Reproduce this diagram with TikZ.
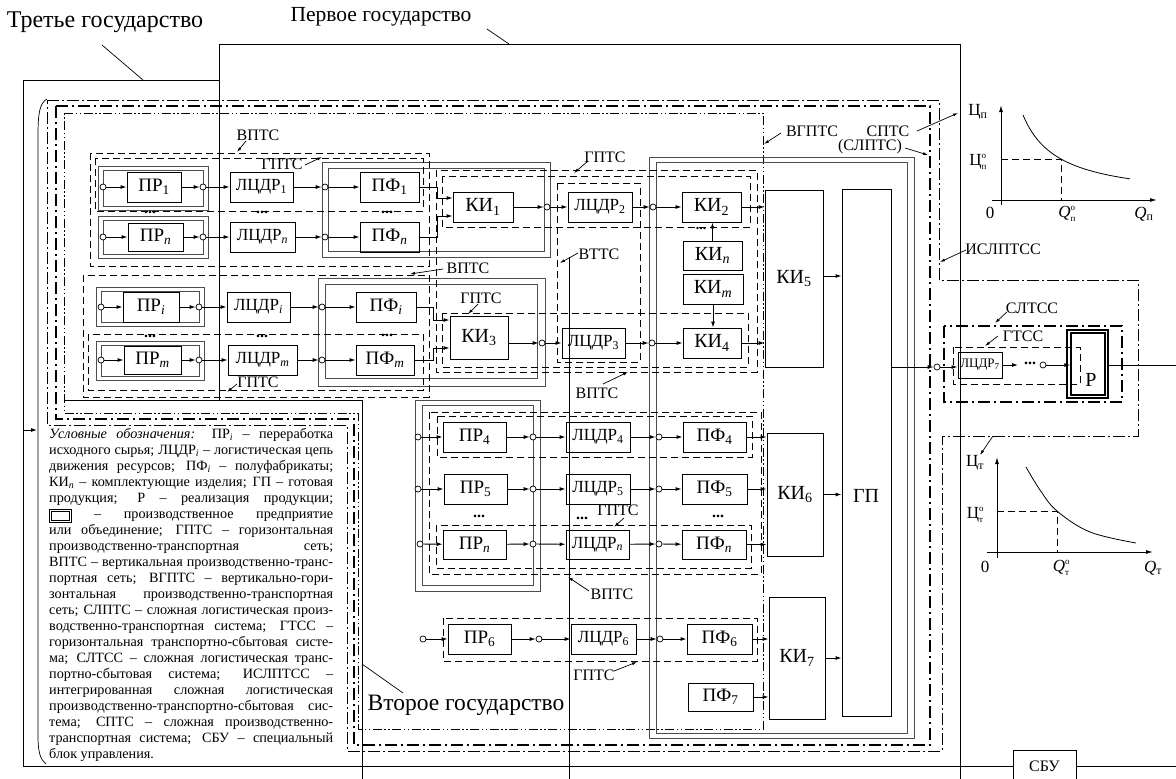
\documentclass[tikz,border=0pt]{standalone}
\usepackage{fontspec}
\setmainfont{Liberation Serif}
\usetikzlibrary{arrows.meta}
\newcommand{\fsz}[1]{\fontsize{#1}{#1}\selectfont}
\newcommand{\mkbox}[7]{\node[#1, minimum width={(#4-#2)*1pt}, minimum height={(#5-#3)*1pt}] (#6) at ({(#2+#4)/2},{(#3+#5)/2}) {#7};}
\newcommand{\supsub}[2]{\rlap{\raisebox{7pt}{\fsz{9}#1}}\raisebox{-4pt}{\fsz{9}#2}}
\newcommand{\legbox}{\raisebox{-1pt}{\setlength{\fboxsep}{1pt}\setlength{\fboxrule}{0.6pt}\fbox{\fbox{\rule{0pt}{7pt}\hspace{16pt}}}}}
\begin{document}
\begin{tikzpicture}[x=1pt,y=-1pt,
 st/.style={line width=0.9pt},
 blk/.style={draw, line width=0.9pt, inner sep=0pt, font=\fsz{19}},
 bl/.style={blk, font=\fsz{17}},
 bk/.style={blk, font=\fsz{20}},
 cir/.style={circle, draw, line width=0.7pt, fill=white, inner sep=0pt, minimum size=6pt},
 arr/.style={line width=0.9pt, -{Latex[length=6pt,width=4pt]}},
 ent/.style={line width=1pt, draw=black!70},
 dsh/.style={line width=0.9pt, dash pattern=on 7pt off 4pt},
 fa/.style={line width=0.8pt, dash pattern=on 12pt off 3pt on 2pt off 3pt},
 fb/.style={line width=1.5pt, dash pattern=on 12pt off 4pt on 2pt off 4pt},
 fc/.style={line width=0.8pt, dash pattern=on 9pt off 2.5pt on 1.5pt off 2.5pt on 1.5pt off 2.5pt},
 lbl/.style={font=\fsz{16}, inner sep=0pt},
 glbl/.style={font=\fsz{17}, inner sep=0pt},
 lead/.style={line width=0.7pt, -{Latex[length=5pt,width=3pt]}},
 dots/.style={font=\fsz{16}\bfseries, inner sep=0pt}]
\useasboundingbox (0,0) rectangle (1176,779);
\fill[white] (0,0) rectangle (1176,779);

% ---------- big frames
\draw[fa] (47,100) -- (939,100) -- (939,280) -- (1138,280) -- (1138,436) -- (942,436) -- (942,751) -- (347,751) -- (347,425) -- (47,425) -- cycle;
\draw[fb] (56,106) -- (930,106) -- (930,745) -- (354,745) -- (354,419) -- (56,419) -- cycle;
\draw[fc] (64,113) -- (763,113) -- (763,729) -- (358,729) -- (358,413) -- (64,413) -- cycle;

% ---------- state boundaries
\mkbox{blk, font=\fsz{16}}{1013}{750}{1076}{782}{sbu}{СБУ}
\draw[st] (219,80) -- (23,80) -- (23,766) -- (sbu.west);
\draw[st] (sbu.east) -- (1176,766);
\draw[st] (219,400) -- (219,44) -- (960,44) -- (960,779);
\draw[st] (65,400) -- (362,400) -- (362,779);
\draw[st] (569,257) -- (569,779);
\node[font=\fsz{24}, inner sep=0pt] (third) at (105,22) {Третье государство};
\draw[line width=0.7pt] (102,45) -- (143,80);
\node[font=\fsz{21.5}, inner sep=0pt] (first) at (381,17) {Первое государство};
\draw[line width=0.7pt] (487,29) -- (509,44);
\node[font=\fsz{23.5}, inner sep=0pt] (second) at (466,705) {Второе государство};
\draw[line width=0.7pt] (362,664) -- (403,693);

% brace and arrow
\draw[line width=0.7pt] (47,99) .. controls (40,103) and (38,112) .. (38,135) -- (38,735) .. controls (38,752) and (40,759) .. (46,764);
\coordinate (brA) at (23,430);
\coordinate (brB) at (37,430);
\draw[arr] (brA) -- (brB);

% ---------- enterprise double boxes
\draw[ent] (98,166) rectangle (208,210); \draw[ent] (103,170) rectangle (203,206);
\draw[ent] (98,216) rectangle (208,258); \draw[ent] (103,220) rectangle (203,254);
\draw[ent] (322,162) rectangle (550,257); \draw[ent] (328,168) rectangle (544,251);
\draw[ent] (96,287) rectangle (204,326); \draw[ent] (101,291) rectangle (199,322);
\draw[ent] (96,341) rectangle (204,380); \draw[ent] (101,345) rectangle (199,376);
\draw[ent] (318,278) rectangle (545,386); \draw[ent] (325,284) rectangle (537,378);
\draw[ent] (415,400) rectangle (540,591); \draw[ent] (422,405) rectangle (533,585);
\draw[ent] (649,157) rectangle (914,738); \draw[ent] (656,162) rectangle (907,733);

% ---------- dashed frames
\draw[dsh] (90,153) rectangle (429,266);
\draw[dsh] (95,158) rectangle (423,211);
\draw[dsh] (83,275) rectangle (429,397);
\draw[dsh] (88,334) rectangle (423,390);
\draw[dsh] (436,170) rectangle (757,372);
\draw[dsh] (442,176) rectangle (750,227);
\draw[dsh] (442,313) rectangle (748,367);
\draw[dsh] (557,183) rectangle (640,362);
\draw[dsh] (429,412) rectangle (761,574);
\draw[dsh] (437,416) rectangle (752,457);
\draw[dsh] (436,525) rectangle (751,568);
\draw[dsh] (443,618) rectangle (757,661);
\draw[fb, line width=1.4pt] (944,326) rectangle (1122,402);
\draw[dsh] (953,347) rectangle (1080,384);

% ---------- labels with leaders
\node[lbl] (tVPTSa) at (258,135) {ВПТС}; \draw[lead] (246,141) -- (237,152);
\node[lbl] (tGPTSa) at (282,164) {ГПТС}; \draw[lead] (305,165) -- (322,157);
\node[lbl] (tGPTSb) at (605,157) {ГПТС}; \draw[lead] (588,161) -- (574,173);
\node[lbl] (tVTTS) at (599,254) {ВТТС}; \draw[lead] (578,253) -- (560,263);
\node[lbl] (tVPTSb) at (468,268) {ВПТС}; \draw[lead] (443,269) -- (410,274);
\node[lbl] (tGPTSc) at (481,298) {ГПТС}; \draw[lead] (478,304) -- (468,314);
\node[lbl] (tGPTSd) at (258,382) {ГПТС}; \draw[lead] (237,384) -- (227,392);
\node[lbl] (tVPTSc) at (597,393) {ВПТС}; \draw[lead] (603,384) -- (628,372);
\node[lbl] (tGPTSe) at (618,510) {ГПТС}; \draw[lead] (624,518) -- (614,527);
\node[lbl] (tVPTSd) at (612,594) {ВПТС}; \draw[lead] (589,591) -- (568,577);
\node[lbl] (tGPTSf) at (594,675) {ГПТС}; \draw[lead] (614,671) -- (637,662);
\node[lbl] (tVGPTS) at (812,131) {ВГПТС}; \draw[lead] (781,133) -- (764,144);
\node[lbl] (tSPTS) at (888,131) {СПТС}; \draw[lead] (917,131) -- (958,113);
\node[lbl] (tSLPTS) at (870,147) {(СЛПТС)}; \draw[lead] (905,148) -- (928,155);
\node[lbl] (tISL) at (1003,249) {ИСЛПТСС}; \draw[lead] (966,250) -- (940,262);
\node[lbl] (tSLTSS) at (1032,308) {СЛТСС}; \draw[lead] (1007,312) -- (995,323);
\node[lbl] (tGTSS) at (1023,336) {ГТСС}; \draw[lead] (998,336) -- (985,346);

% ---------- top group row 1
\mkbox{blk}{127}{172}{181}{202}{pra}{ПР\textsubscript{1}}
\node[cir] (cia) at (103,187) {};
\node[cir] (coa) at (203,187) {};
\mkbox{bl}{230}{172}{293}{202}{la}{ЛЦДР\textsubscript{1}}
\node[cir] (cla) at (325,187) {};
\mkbox{blk}{360}{172}{419}{202}{pfa}{ПФ\textsubscript{1}}
\draw[arr] (cia) -- (pra); \draw[arr] (pra) -- (coa); \draw[arr] (coa) -- (la);
\draw[arr] (la) -- (cla); \draw[arr] (cla) -- (pfa);
% row n
\mkbox{blk}{128}{223}{183}{251}{prb}{ПР\textsubscript{\textit{n}}}
\node[cir] (cib) at (103,237) {};
\node[cir] (cob) at (203,237) {};
\mkbox{bl}{230}{222}{295}{252}{lb}{ЛЦДР\textsubscript{\textit{n}}}
\node[cir] (clb) at (325,237) {};
\mkbox{blk}{360}{222}{419}{252}{pfb}{ПФ\textsubscript{\textit{n}}}
\draw[arr] (cib) -- (prb); \draw[arr] (prb) -- (cob); \draw[arr] (cob) -- (lb);
\draw[arr] (lb) -- (clb); \draw[arr] (clb) -- (pfb);
\node[dots] (d1) at (150,212) {...};
\node[dots] (d2) at (262,212) {...};
\node[dots] (d3) at (387,212) {...};
% KI1 chain
\mkbox{bk}{453}{192}{513}{222}{kia}{КИ\textsubscript{1}}
\draw[arr] (pfa.east) -- ++(18,0) |- ([yshift=9pt]kia.west);
\draw[arr] (pfb.east) -- ++(18,0) |- ([yshift=-9pt]kia.west);
\node[cir] (cka) at (547,207) {};
\mkbox{bl}{568}{192}{632}{222}{lc}{ЛЦДР\textsubscript{2}}
\node[cir] (clc) at (653,207) {};
\mkbox{bk}{682}{192}{741}{222}{kib}{КИ\textsubscript{2}}
\draw[arr] (kia) -- (cka); \draw[arr] (cka) -- (lc); \draw[arr] (lc) -- (clc); \draw[arr] (clc) -- (kib);
\mkbox{bk}{683}{241}{742}{270}{kin}{КИ\textsubscript{\textit{n}}}
\mkbox{bk}{683}{274}{743}{304}{kim}{КИ\textsubscript{\textit{m}}}
\node[font=\fsz{14}\bfseries, inner sep=0pt] (d4) at (701,229) {...};
\draw[arr] (kin.north) -- (kin.north |- kib.south);

% ---------- middle group
\mkbox{blk}{123}{292}{179}{322}{prc}{ПР\textsubscript{\textit{i}}}
\node[cir] (cic) at (101,307) {};
\node[cir] (coc) at (199,307) {};
\mkbox{bl}{227}{292}{290}{322}{ld}{ЛЦДР\textsubscript{\textit{i}}}
\node[cir] (cld) at (322,307) {};
\mkbox{blk}{356}{292}{416}{322}{pfc}{ПФ\textsubscript{\textit{i}}}
\draw[arr] (cic) -- (prc); \draw[arr] (prc) -- (coc); \draw[arr] (coc) -- (ld);
\draw[arr] (ld) -- (cld); \draw[arr] (cld) -- (pfc);
\mkbox{blk}{124}{346}{181}{374}{prd}{ПР\textsubscript{\textit{m}}}
\node[cir] (cid) at (101,360) {};
\node[cir] (cod) at (199,360) {};
\mkbox{bl}{228}{345}{297}{375}{le}{ЛЦДР\textsubscript{\textit{m}}}
\node[cir] (cle) at (322,360) {};
\mkbox{blk}{356}{345}{414}{375}{pfd}{ПФ\textsubscript{\textit{m}}}
\draw[arr] (cid) -- (prd); \draw[arr] (prd) -- (cod); \draw[arr] (cod) -- (le);
\draw[arr] (le) -- (cle); \draw[arr] (cle) -- (pfd);
\node[dots] (d5) at (150,336) {...};
\node[dots] (d6) at (262,336) {...};
\node[dots] (d7) at (387,335) {...};
\mkbox{bk}{450}{316}{508}{359}{kic}{КИ\textsubscript{3}}
\draw[arr] (pfc.east) -- ++(17,0) |- ([yshift=17.5pt]kic.west);
\draw[arr] (pfd.east) -- ++(19,0) |- ([yshift=-10.5pt]kic.west);
\node[cir] (ckc) at (542,343) {};
\mkbox{bl}{562}{328}{625}{358}{lf}{ЛЦДР\textsubscript{3}}
\node[cir] (clf) at (652,343) {};
\mkbox{bk}{683}{328}{741}{358}{kid}{КИ\textsubscript{4}}
\draw[arr] ([yshift=-5.5pt]kic.east) -- (ckc); \draw[arr] (ckc) -- (lf); \draw[arr] (lf) -- (clf); \draw[arr] (clf) -- (kid);
\draw[arr] (kim.south) -- (kim.south |- kid.north);

% ---------- KI5, GP
\mkbox{bk}{765}{190}{823}{367}{kie}{КИ\textsubscript{5}}
\mkbox{blk}{842}{189}{891}{716}{gp}{}
\node[font=\fsz{20}, inner sep=0pt] (gpl) at (866,496) {ГП};
\draw[arr] (kib.east) -- (kib.east -| kie.west);
\draw[arr] (kid.east) -- (kid.east -| kie.west);
\draw[arr] ([yshift=2.5pt]kie.east) -- ([yshift=2.5pt]kie.east -| gp.west);

% ---------- lower group
\mkbox{blk}{443}{422}{506}{452}{pre}{ПР\textsubscript{4}}
\node[cir] (cie) at (418,437) {};
\node[cir] (coe) at (533,437) {};
\mkbox{bl}{566}{422}{630}{452}{lg}{ЛЦДР\textsubscript{4}}
\node[cir] (clg) at (659,437) {};
\mkbox{blk}{683}{422}{746}{452}{pfe}{ПФ\textsubscript{4}}
\draw[arr] (cie) -- (pre); \draw[arr] (pre) -- (coe); \draw[arr] (coe) -- (lg);
\draw[arr] (lg) -- (clg); \draw[arr] (clg) -- (pfe);

\mkbox{blk}{444}{474}{507}{504}{prf}{ПР\textsubscript{5}}
\node[cir] (cif) at (418,489) {};
\node[cir] (cof) at (533,489) {};
\mkbox{bl}{566}{474}{630}{504}{lh}{ЛЦДР\textsubscript{5}}
\node[cir] (clh) at (659,489) {};
\mkbox{blk}{682}{474}{747}{504}{pff}{ПФ\textsubscript{5}}
\draw[arr] (cif) -- (prf); \draw[arr] (prf) -- (cof); \draw[arr] (cof) -- (lh);
\draw[arr] (lh) -- (clh); \draw[arr] (clh) -- (pff);

\mkbox{blk}{443}{530}{506}{559}{prg}{ПР\textsubscript{\textit{n}}}
\node[cir] (cig) at (420,544) {};
\node[cir] (cog) at (533,544) {};
\mkbox{bl}{566}{530}{629}{559}{li}{ЛЦДР\textsubscript{\textit{n}}}
\node[cir] (cli) at (659,544) {};
\mkbox{blk}{682}{530}{746}{559}{pfg}{ПФ\textsubscript{\textit{n}}}
\draw[arr] (cig) -- (prg); \draw[arr] (prg) -- (cog); \draw[arr] (cog) -- (li);
\draw[arr] (li) -- (cli); \draw[arr] (cli) -- (pfg);
\node[dots] (d8) at (479,516) {...};
\node[dots] (d9) at (582,518) {...};
\node[dots] (d10) at (718,516) {...};

\mkbox{bk}{767}{433}{823}{556}{kif}{КИ\textsubscript{6}}
\draw[arr] (pfe.east) -- (pfe.east -| kif.west);
\draw[arr] (pff.east) -- (pff.east -| kif.west);
\draw[arr] (pfg.east) -- (pfg.east -| kif.west);
\draw[arr] (kif.east) -- (kif.east -| gp.west);

% row 6
\node[cir] (cih) at (423,639) {};
\mkbox{blk}{448}{624}{511}{654}{prh}{ПР\textsubscript{6}}
\node[cir] (coh) at (539,639) {};
\mkbox{bl}{571}{624}{636}{654}{lj}{ЛЦДР\textsubscript{6}}
\node[cir] (clj) at (660,639) {};
\mkbox{blk}{687}{624}{752}{654}{pfh}{ПФ\textsubscript{6}}
\draw[arr] (cih) -- (prh); \draw[arr] (prh) -- (coh); \draw[arr] (coh) -- (lj);
\draw[arr] (lj) -- (clj); \draw[arr] (clj) -- (pfh);
\mkbox{blk}{688}{683}{753}{711}{pfi}{ПФ\textsubscript{7}}
\mkbox{bk}{769}{597}{825}{719}{kig}{КИ\textsubscript{7}}
\draw[arr] (pfh.east) -- (pfh.east -| kig.west);
\draw[arr] (pfi.east) -- (pfi.east -| kig.west);
\draw[arr] (kig.east) -- (kig.east -| gp.west);

% ---------- sales part
\node[cir] (cgp) at (937,367) {};
\draw[arr] (gp.east |- cgp) -- (cgp);
\mkbox{blk, font=\fsz{13}}{958}{352}{1002}{378}{lk}{ЛЦДР\textsubscript{7}}
\draw[arr] (cgp) -- (lk.west |- cgp);
\coordinate (lkend) at (1018,365);
\draw[arr] (lk.east |- lkend) -- (lkend);
\node[font=\fsz{16}\bfseries, inner sep=0pt] (d11) at (1030,363) {...};
\node[cir] (crr) at (1043,365) {};
\draw[line width=1.2pt] (1067,330) rectangle (1108,398);
\mkbox{draw, line width=1.2pt, inner sep=0pt}{1071}{333}{1105}{395}{rr}{}
\node[font=\fsz{20}, inner sep=0pt] (rrl) at (1091,380) {Р};
\draw[arr] (crr) -- (rr.west |- crr);
\coordinate (rrend) at (1176,365);
\draw[st] (1108,365) -- (rrend);

% ---------- graph 1
\draw[line width=1pt, -{Latex[length=7pt,width=4pt]}] (1001,205) -- (1001,105);
\draw[line width=1pt, -{Latex[length=7pt,width=4pt]}] (992,200) -- (1157,200);
\draw[line width=0.8pt] plot[domain=1023:1130, samples=50] (\x, {200-3009/(\x-987.6)});
\draw[dsh] (1001,159) -- (1061,159) -- (1061,200);
\node[glbl] (g1a) at (978,112) {Ц\textsubscript{п}};
\node[glbl] (g1b) at (978,162) {Ц\supsub{о}{п}};
\node[glbl] (g1c) at (990,213) {0};
\node[glbl] (g1d) at (1067,214) {\textit{Q}\supsub{о}{п}};
\node[glbl] (g1e) at (1144,214) {\textit{Q}\textsubscript{п}};

% ---------- graph 2
\draw[line width=1pt, -{Latex[length=7pt,width=4pt]}] (997,558) -- (997,457);
\draw[line width=1pt, -{Latex[length=7pt,width=4pt]}] (987,552) -- (1153,552);
\draw[line width=0.8pt] plot[smooth, tension=0.6] coordinates {(1026,467) (1040,490) (1057,511) (1090,532) (1136,543)};
\draw[dsh] (997,511) -- (1057,511) -- (1057,552);
\node[glbl] (g2a) at (975,463) {Ц\textsubscript{т}};
\node[glbl] (g2b) at (975,515) {Ц\supsub{о}{т}};
\node[glbl] (g2c) at (985,567) {0};
\node[glbl] (g2d) at (1061,568) {\textit{Q}\supsub{о}{т}};
\node[glbl] (g2e) at (1153,568) {\textit{Q}\textsubscript{т}};
\draw[lead] (993,436) -- (980,455);

% ---------- legend
\node[anchor=north west, inner sep=0pt, text width=284pt, align=justify, font=\fontsize{14.2}{16}\selectfont] (leg) at (49,428) {\fontsize{14.2}{16}\selectfont\tolerance=10000\hyphenpenalty=10000\exhyphenpenalty=10000
\textit{Условные обозначения:} ПР\textsubscript{\textit{i}} – переработка\linebreak
исходного сырья; ЛЦДР\textsubscript{\textit{i}} – логистическая цепь\linebreak
движения ресурсов; ПФ\textsubscript{\textit{i}} – полуфабрикаты;\linebreak
КИ\textsubscript{\textit{n}} – комплектующие изделия; ГП – готовая\linebreak
продукция; Р – реализация продукции;\linebreak
\legbox{} – производственное предприятие\linebreak
или объединение; ГПТС – горизонтальная\linebreak
производственно-транспортная сеть;\linebreak
ВПТС – вертикальная производственно-транс-\linebreak
портная сеть; ВГПТС – вертикально-гори-\linebreak
зонтальная производственно-транспортная\linebreak
сеть; СЛПТС – сложная логистическая произ-\linebreak
водственно-транспортная система; ГТСС –\linebreak
горизонтальная транспортно-сбытовая систе-\linebreak
ма; СЛТСС – сложная логистическая транс-\linebreak
портно-сбытовая система; ИСЛПТСС –\linebreak
интегрированная сложная логистическая\linebreak
производственно-транспортно-сбытовая сис-\linebreak
тема; СПТС – сложная производственно-\linebreak
транспортная система; СБУ – специальный\linebreak
блок управления.};
\end{tikzpicture}
\end{document}
